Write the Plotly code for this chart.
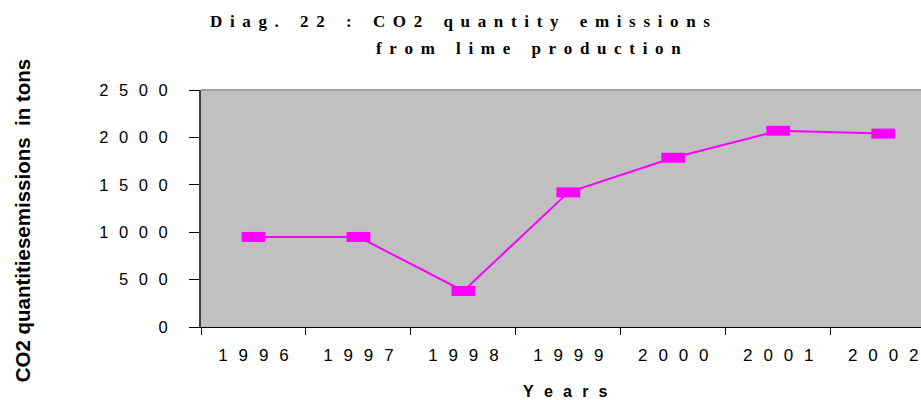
import plotly.graph_objects as go

years = ["1996", "1997", "1998", "1999", "2000", "2001", "2002"]
emissions = [950, 950, 380, 1420, 1785, 2070, 2040]
y_ticks = [0, 500, 1000, 1500, 2000, 2500]

title_line1 = "Diag. 22 : CO2 quantity emissions"
title_line2 = "from lime production"
y_title = "CO2 quantitiesemissions  in tons"
x_title = "Years"

NB = "\u00a0"
HAIR = "\u200a"
THIN = "\u2009"


def spaced(s, gap, word_gap):
    out = []
    for i, ch in enumerate(s):
        if ch == " ":
            out.append(word_gap)
        else:
            out.append(ch)
            if i < len(s) - 1 and s[i + 1] != " ":
                out.append(gap)
    return "".join(out)


NUM_GAP = NB * 2 + HAIR

fig = go.Figure()
fig.add_trace(go.Scatter(
    x=years, y=emissions, mode="lines",
    line=dict(color="#FF00FF", width=2),
    showlegend=False, cliponaxis=False, hoverinfo="skip",
))
fig.add_trace(go.Scatter(
    x=years, y=emissions, mode="markers",
    marker=dict(symbol="line-ew", size=17, color="#FF00FF",
                line=dict(color="#FF00FF", width=10)),
    showlegend=False, cliponaxis=False,
))

y_tick_font = dict(family="Liberation Sans, Arial, sans-serif", size=16.5, color="#000000")
x_tick_font = dict(family="Liberation Sans, Arial, sans-serif", size=17, color="#000000")

fig.update_layout(
    width=921, height=400,
    margin=dict(l=201, r=0, t=90, b=73),
    paper_bgcolor="white",
    plot_bgcolor="#C0C0C0",
    xaxis=dict(
        type="category",
        categoryorder="array", categoryarray=years,
        tickvals=years, ticktext=[spaced(y, NUM_GAP, NUM_GAP) for y in years],
        range=[-0.5, 6.36],
        tickson="boundaries",
        ticks="outside", ticklen=7, tickcolor="#000000",
        showline=True, linecolor="#000000", linewidth=1,
        showgrid=False, zeroline=False,
        tickfont=x_tick_font, ticklabelstandoff=13,
    ),
    yaxis=dict(
        range=[0, 2500],
        tickvals=y_ticks,
        ticktext=[spaced(str(v), NUM_GAP, NUM_GAP) for v in y_ticks],
        ticks="outside", ticklen=10, tickcolor="#000000",
        showline=True, linecolor="#404040", linewidth=2,
        showgrid=False, zeroline=False,
        tickfont=y_tick_font, ticklabelstandoff=18,
    ),
)

fig.add_shape(type="line", xref="paper", yref="paper", x0=0, x1=1, y0=1, y1=1,
              line=dict(color="#A0A0A0", width=2))

title_font = dict(family="Liberation Serif, Times New Roman, serif", size=17, color="#000000")
TGAP = NB + THIN
TWORD = NB * 5
fig.add_annotation(text="<b>" + spaced(title_line1, TGAP, TWORD) + "</b>",
                   xref="paper", yref="paper", x=0.36, y=1.291,
                   xanchor="center", yanchor="middle", showarrow=False, font=title_font)
fig.add_annotation(text="<b>" + spaced(title_line2, TGAP, TWORD) + "</b>",
                   xref="paper", yref="paper", x=0.455, y=1.177,
                   xanchor="center", yanchor="middle", showarrow=False, font=title_font)

fig.add_annotation(text="<b>" + y_title + "</b>",
                   xref="paper", yref="paper", x=-0.2486, y=0.45,
                   xanchor="center", yanchor="middle", textangle=-90, showarrow=False,
                   font=dict(family="Liberation Sans, Arial, sans-serif", size=20.5, color="#000000"))
fig.add_annotation(text="<b>" + spaced(x_title, NUM_GAP, NUM_GAP) + "</b>",
                   xref="paper", yref="paper", x=0.5056, y=-0.274,
                   xanchor="center", yanchor="middle", showarrow=False,
                   font=dict(family="Liberation Sans, Arial, sans-serif", size=16, color="#000000"))

fig.write_html("out.html", config={"displayModeBar": False},
               post_script="document.body.style.margin='0';")
